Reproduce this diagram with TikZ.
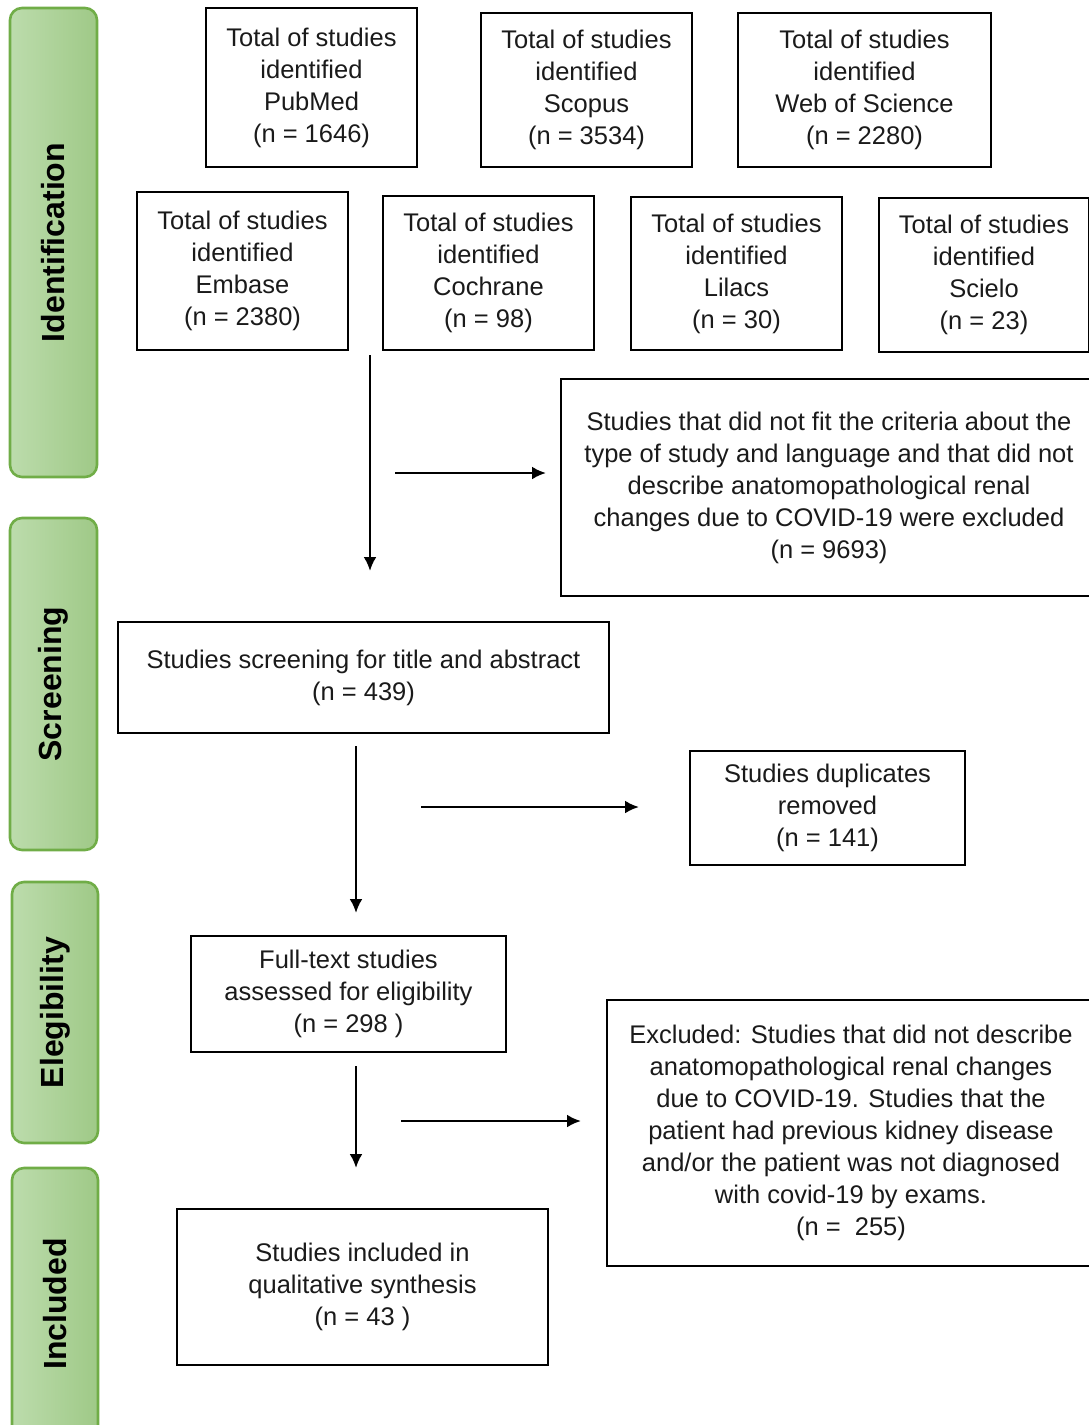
\documentclass[tikz,border=0pt]{standalone}
\usepackage{fontspec}
\usepackage{graphicx}
\setmainfont{Liberation Sans}
\usetikzlibrary{arrows.meta}
\definecolor{barline}{HTML}{70AD47}
\definecolor{barlight}{HTML}{BCDCAC}
\definecolor{bardark}{HTML}{9FC987}
\definecolor{txt}{HTML}{1A1A1A}
\newcommand{\phasetext}[1]{\rotatebox{90}{#1}}
\begin{document}
\begin{tikzpicture}[x=1pt, y=-1pt, >={Latex[length=14pt,width=13pt]},
    box/.style={draw, line width=2.6pt, align=center, inner sep=0pt, text=txt,
        font=\fontsize{25.5}{32}\selectfont},
    phase/.style={draw=barline, line width=2.6pt, rounded corners=12pt,
        left color=barlight, right color=bardark, inner sep=0pt,
        font=\fontsize{32}{36}\selectfont\bfseries},
    arr/.style={->, line width=2.6pt}]
\useasboundingbox (0,0) rectangle (1089,1425);
% phases
\node[phase, minimum height=469pt, minimum width=87pt] (idbar) at (53.5,242.5) {\phasetext{Identification}};
\node[phase, minimum height=332pt, minimum width=87pt] (scbar) at (53.5,684) {\phasetext{Screening}};
\node[phase, minimum height=261pt, minimum width=86pt] (elbar) at (55,1012.5) {\phasetext{Elegibility}};
\node[phase, minimum height=272pt, minimum width=86pt] (inbar) at (55,1304) {\phasetext{Included}};
% databases
\node[box, minimum width=211pt, minimum height=159pt] (pubmed) at (311.5,87.5) {Total of studies\\identified\\PubMed\\(n = 1646)};
\node[box, minimum width=211pt, minimum height=154pt] (scopus) at (586.5,90) {Total of studies\\identified\\Scopus\\(n = 3534)};
\node[box, minimum width=253pt, minimum height=154pt] (wos) at (864.5,90) {Total of studies\\identified\\Web of Science\\(n = 2280)};
\node[box, minimum width=211pt, minimum height=158pt] (embase) at (242.5,271) {Total of studies\\identified\\Embase\\(n = 2380)};
\node[box, minimum width=211pt, minimum height=154pt] (cochrane) at (488.5,273) {Total of studies\\identified\\Cochrane\\(n = 98)};
\node[box, minimum width=211pt, minimum height=153pt] (lilacs) at (736.5,273.5) {Total of studies\\identified\\Lilacs\\(n = 30)};
\node[box, minimum width=210pt, minimum height=154pt] (scielo) at (984,275) {Total of studies\\identified\\Scielo\\(n = 23)};
% flow
\node[box, minimum width=536pt, minimum height=217pt] (excla) at (829,487.5) {Studies that did not fit the criteria about the\\type of study and language and that did not\\describe anatomopathological renal\\changes due to COVID-19 were excluded\\(n = 9693)};
\node[box, minimum width=491pt, minimum height=111pt] (screen) at (363.5,677.5) {Studies screening for title and abstract\\(n = 439)};
\node[box, minimum width=275pt, minimum height=114pt] (dupl) at (827.5,808) {Studies duplicates\\removed\\(n = 141)};
\node[box, minimum width=315pt, minimum height=116pt] (fulltext) at (348.5,994) {Full-text studies\\assessed for eligibility\\(n = 298 )};
\node[box, minimum width=488pt, minimum height=266pt] (exclb) at (851,1133) {Excluded: Studies that did not describe\\anatomopathological renal changes\\due to COVID-19. Studies that the\\patient had previous kidney disease\\and/or the patient was not diagnosed\\with covid-19 by exams.\\(n = \ 255)};
\node[box, minimum width=371pt, minimum height=156pt] (incl) at (362.5,1287) {Studies included in\\qualitative synthesis\\(n = 43 )};
% arrows
\coordinate (downa) at (370,355);
\coordinate (downaend) at (370,571);
\coordinate (righta) at (395,473);
\coordinate (rightaend) at (546,473);
\coordinate (downb) at (356,746);
\coordinate (downbend) at (356,913);
\coordinate (rightb) at (421,807);
\coordinate (rightbend) at (639,807);
\coordinate (downc) at (356,1066);
\coordinate (downcend) at (356,1168);
\coordinate (rightc) at (401,1121);
\coordinate (rightcend) at (581,1121);
\draw[arr] (downa)--(downaend);
\draw[arr] (righta)--(rightaend);
\draw[arr] (downb)--(downbend);
\draw[arr] (rightb)--(rightbend);
\draw[arr] (downc)--(downcend);
\draw[arr] (rightc)--(rightcend);
\end{tikzpicture}
\end{document}
